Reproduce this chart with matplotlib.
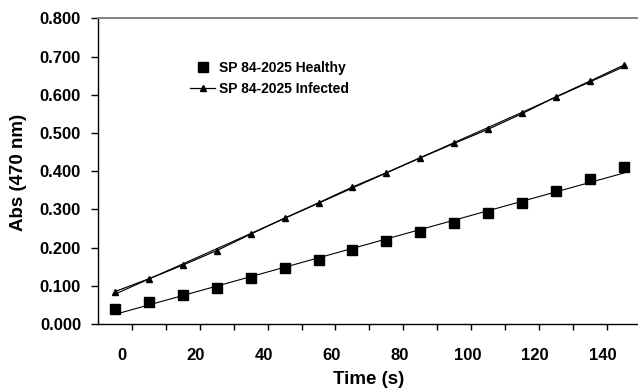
import numpy as np
import matplotlib
matplotlib.use("Agg")
import matplotlib.pyplot as plt
from matplotlib.transforms import ScaledTranslation

plt.rcParams['font.family'] = ['Liberation Sans', 'DejaVu Sans']
plt.rcParams['font.weight'] = 'bold'

time_s = [-5, 5, 15, 25, 35, 45, 55, 65, 75, 85, 95, 105, 115, 125, 135, 145]
healthy = [0.0385, 0.058, 0.076, 0.095, 0.1195, 0.146, 0.1675, 0.194, 0.216,
           0.2415, 0.265, 0.290, 0.3175, 0.349, 0.3795, 0.410]
infected = [0.0845, 0.118, 0.154, 0.192, 0.235, 0.277, 0.317, 0.3585, 0.396,
            0.435, 0.473, 0.510, 0.551, 0.595, 0.636, 0.678]
x_ticks = [0, 20, 40, 60, 80, 100, 120, 140]
y_ticks = [0.0, 0.1, 0.2, 0.3, 0.4, 0.5, 0.6, 0.7, 0.8]
label_healthy = "SP 84-2025 Healthy"
label_infected = "SP 84-2025 Infected"

W, H = 638, 390
fig = plt.figure(figsize=(W / 100, H / 100), dpi=100)
ax_left, ax_bottom = 97.7, 324.0
ax_top = 18.3
xmin, xmax = -10, 150
px_per_unit = 3.397
ax_w = (xmax - xmin) * px_per_unit
ax = fig.add_axes([ax_left / W, (H - ax_bottom) / H, ax_w / W, (ax_bottom - ax_top) / H])

t = np.array(time_s, dtype=float)
h = np.array(healthy)
inf = np.array(infected)

# linear trendlines
ph = np.polyfit(t, h, 1)
pi = np.polyfit(t, inf, 1)
tt = np.array([t[0], t[-1]])
ax.plot(tt, np.polyval(ph, tt), color='black', lw=0.8, zorder=2)
ax.plot(tt, np.polyval(pi, tt), color='black', lw=0.8, zorder=2)

ax.plot(t, h, linestyle='none', marker='s', color='black', markersize=6.5,
        label=label_healthy, zorder=3)
ax.plot(t, inf, linestyle='-', lw=0.9, marker='^', color='black', markersize=4.8,
        label=label_infected, zorder=3)

ax.set_xlim(xmin, xmax)
ax.set_ylim(0, 0.8)
ax.set_xticks(x_ticks)
ax.set_xticks(np.arange(10, 150, 20), minor=True)
ax.set_xticklabels([str(v) for v in x_ticks])
ax.set_yticks(y_ticks)
ax.set_yticklabels(['%.3f' % v for v in y_ticks])

ax.tick_params(axis='x', which='both', direction='out', length=4, width=1.0,
               pad=13, labelsize=12)
ax.tick_params(axis='y', direction='out', length=5, width=1.0, pad=7, labelsize=12)

for i, lab in enumerate(ax.get_xticklabels()):
    dx = -10 if i == 0 else -4
    lab.set_transform(lab.get_transform() + ScaledTranslation(dx / 100, 0, fig.dpi_scale_trans))
for lab in ax.get_xticklabels() + ax.get_yticklabels():
    lab.set_fontweight('bold')

ax.spines['right'].set_visible(False)
ax.spines['top'].set_color('#808080')
ax.spines['top'].set_linewidth(1.4)
ax.spines['left'].set_linewidth(1.0)
ax.spines['bottom'].set_linewidth(1.0)

fig.text(369 / W, 1 - 379 / H, "Time (s)", ha='center', va='center',
         fontsize=13.5, fontweight='bold')
fig.text(19 / W, 1 - 172 / H, "Abs (470 nm)", ha='center', va='center',
         rotation=90, fontsize=13.5, fontweight='bold')

leg = ax.legend(loc='upper left', bbox_to_anchor=(190 / W, 1 - 61 / H),
                bbox_transform=fig.transFigure, frameon=False,
                prop={'size': 10, 'weight': 'bold'}, handlelength=1.8,
                handletextpad=0.3, labelspacing=0.5, borderpad=0, borderaxespad=0)

fig.savefig("out.png", dpi=100)
